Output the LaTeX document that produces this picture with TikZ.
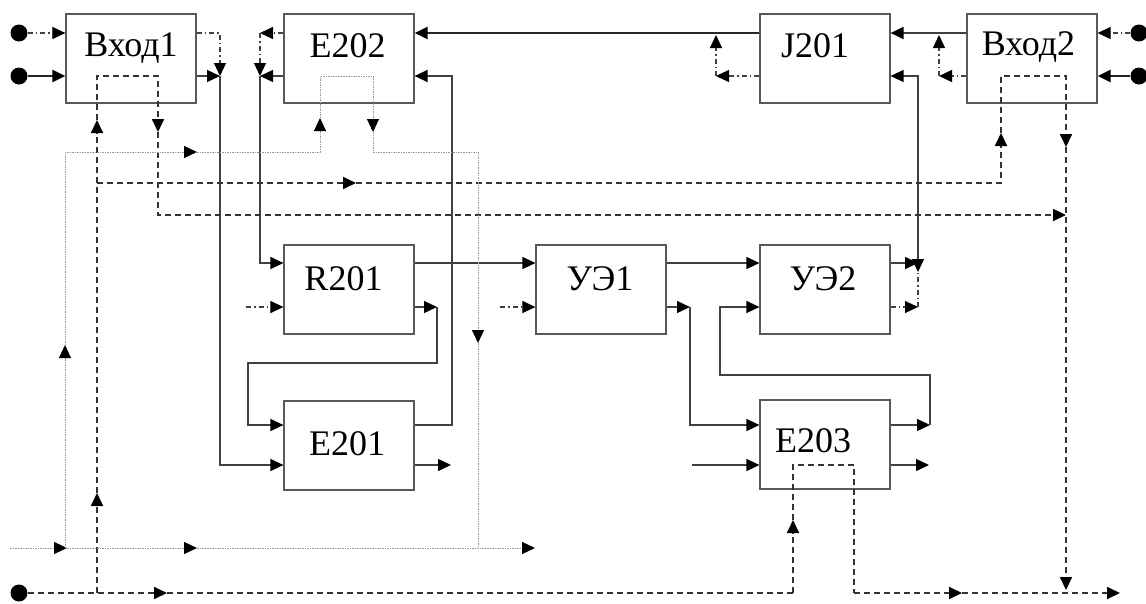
\documentclass[tikz,border=0pt]{standalone}
\usepackage{fontspec}
\setmainfont{Liberation Serif}
\usetikzlibrary{arrows.meta}
\begin{document}
\begin{tikzpicture}[x=1pt,y=-1pt,
  tip/.style={-{Triangle[length=13pt,width=12pt,color=black]}},
  tips/.style={{Triangle[length=13pt,width=12pt,color=black]}-{Triangle[length=13pt,width=12pt,color=black]}},
  box/.style={draw=black!65,line width=1.2pt,minimum width=130pt,minimum height=89pt,inner sep=0pt},
  lbl/.style={font=\fontsize{36}{36}\selectfont,anchor=base,inner sep=0pt},
  sol/.style={draw=black!75,line width=1.3pt},
  thk/.style={draw=black!85,line width=2.6pt},
  dsh/.style={draw=black!80,line width=1.8pt,dash pattern=on 6pt off 4pt},
  dtt/.style={draw=black!40,line width=0.9pt,dash pattern=on 1.5pt off 1pt},
  ddt/.style={draw=black!75,line width=1.1pt,dash pattern=on 5pt off 3pt on 1.5pt off 3pt},
  dotn/.style={circle,fill=black,minimum size=17pt,inner sep=0pt}
]
\useasboundingbox (0,0) rectangle (1146,603);

% boxes
\node[box] (v1) at (131,58.5) {};
\node[box] (e2) at (349,58.5) {};
\node[box] (jj) at (825,58.5) {};
\node[box] (v2) at (1032,58.5) {};
\node[box] (r) at (349,289.5) {};
\node[box] (u1) at (601,289.5) {};
\node[box] (u2) at (825,289.5) {};
\node[box] (e1) at (349,445.5) {};
\node[box] (e3) at (825,444.5) {};

\node[lbl] (tv1) at (131,56) {Вход1};
\node[lbl] (te2) at (347.5,57) {E202};
\node[lbl] (tjj) at (815,57) {J201};
\node[lbl] (tv2) at (1028.5,55) {Вход2};
\node[lbl] (tr) at (343.5,290) {R201};
\node[lbl] (tu1) at (600,290) {УЭ1};
\node[lbl] (tu2) at (823,290) {УЭ2};
\node[lbl] (te1) at (347,455) {E201};
\node[lbl] (te3) at (813,452) {E203};

% input dots
\node[dotn] (d1) at (19,33) {};
\node[dotn] (d2) at (19,76) {};
\node[dotn] (d3) at (1139,33) {};
\node[dotn] (d4) at (1139,76) {};
\node[dotn] (d5) at (19,593) {};

% junction / free-end coordinates
\coordinate (j1) at (220,76);
\coordinate (j1a) at (220,33);
\coordinate (j2) at (260,76);
\coordinate (j2a) at (260,33);
\coordinate (j3) at (716,76);
\coordinate (j3a) at (716,35);
\coordinate (j5) at (939,76);
\coordinate (j5a) at (939,35);
\coordinate (j4) at (918,263);
\coordinate (j4b) at (918,307);
\coordinate (j4a) at (918,272);
\coordinate (rs) at (246,307);
\coordinate (ro) at (437,307);
\coordinate (eo1) at (451,465);
\coordinate (us) at (500,307);
\coordinate (uo) at (690,307);
\coordinate (es) at (692,465);
\coordinate (eo3) at (930,425);
\coordinate (eo4) at (929,465);

% Вход1
\draw[ddt,tip] (d1) -- (v1.west |- 0,33);
\draw[thk,tip] (d2) -- (v1.west |- 0,76);
\draw[ddt,tip] (v1.east |- 0,33) -- (j1a) -- (j1);
\draw[sol,tip] (v1.east |- 0,76) -- (j1);
\draw[sol,tip] (j1) -- (220,465) -- (e1.west |- 0,465);

% E202 left
\draw[ddt,tip] (e2.west |- 0,33) -- (j2a);
\draw[ddt,tip] (j2a) -- (j2);
\draw[sol,tip] (e2.west |- 0,76) -- (j2);
\draw[sol,tip] (j2) -- (260,263) -- (r.west |- 0,263);

% J201
\draw[thk,tip] (jj.west |- 0,33) -- (e2.east |- 0,33);
\draw[ddt,tip] (jj.west |- 0,76) -- (j3);
\draw[ddt,tip] (j3) -- (j3a);

% Вход2
\draw[sol,line width=2pt,tip] (v2.west |- 0,33) -- (jj.east |- 0,33);
\draw[ddt,tip] (v2.west |- 0,76) -- (j5);
\draw[ddt,tip] (j5) -- (j5a);
\draw[ddt,tip] (d3) -- (v2.east |- 0,33);
\draw[thk,tip] (d4) -- (v2.east |- 0,76);

% УЭ2 outputs to J201
\draw[sol,tip] (u2.east |- 0,263) -- (j4);
\draw[ddt,tip] (u2.east |- 0,307) -- (j4b);
\draw[ddt] (j4b) -- (j4a);
\draw[sol,tips] (j4a) -- (918,76) -- (jj.east |- 0,76);

% R201
\draw[sol,tip] (r.east |- 0,263) -- (u1.west |- 0,263);
\draw[ddt,tip] (rs) -- (r.west |- 0,307);
\draw[sol,tip] (r.east |- 0,307) -- (ro);
\draw[sol,tip] (ro) -- (437,363) -- (248,363) -- (248,425) -- (e1.west |- 0,425);

% E201
\draw[sol,tip] (e1.east |- 0,425) -- (452,425) -- (452,76) -- (e2.east |- 0,76);
\draw[sol,tip] (e1.east |- 0,465) -- (eo1);

% УЭ1
\draw[ddt,tip] (us) -- (u1.west |- 0,307);
\draw[sol,tip] (u1.east |- 0,263) -- (u2.west |- 0,263);
\draw[sol,tip] (u1.east |- 0,307) -- (uo);
\draw[sol,tip] (uo) -- (690,425) -- (e3.west |- 0,425);
\draw[sol,tip] (es) -- (e3.west |- 0,465);

% E203
\draw[sol,tip] (e3.east |- 0,425) -- (eo3);
\draw[sol,tip] (eo3) -- (930,375) -- (720,375) -- (720,307) -- (u2.west |- 0,307);
\draw[sol,tip] (e3.east |- 0,465) -- (eo4);

% dashed lines
\coordinate (k1) at (167,593);
\coordinate (k2) at (793,593);
\coordinate (k3) at (793,520);
\coordinate (k4) at (962,593);
\coordinate (k5) at (1120,593);
\coordinate (k6) at (97,593);
\coordinate (k7) at (97,493);
\coordinate (k8) at (97,120);
\coordinate (k9) at (158,132);
\coordinate (k10) at (1066,215);
\coordinate (k11) at (97,183);
\coordinate (k12) at (356,183);
\coordinate (k13) at (1001,133);
\coordinate (k14) at (1066,147);
\coordinate (k15) at (1066,590);

\draw[dsh,tip] (d5) -- (k1);
\draw[dsh] (k1) -- (k2);
\draw[dsh,tip] (k2) -- (k3);
\draw[dsh] (k3) -- (793,465) -- (854,465) -- (854,593);
\draw[dsh,tip] (854,593) -- (k4);
\draw[dsh,tip] (k4) -- (k5);
\draw[dsh,tip] (k6) -- (k7);
\draw[dsh,tip] (k7) -- (k8);
\draw[dsh,tip] (k8) -- (97,76) -- (158,76) -- (k9);
\draw[dsh,tip] (k9) -- (158,215) -- (k10);
\draw[dsh,tip] (k11) -- (k12);
\draw[dsh,tip] (k12) -- (1001,183) -- (k13);
\draw[dsh,tip] (k13) -- (1001,76) -- (1066,76) -- (k14);
\draw[dsh,tip] (k14) -- (k15);

% dotted gray lines
\coordinate (m0) at (10,548);
\coordinate (m1) at (67,548);
\coordinate (m2) at (197,548);
\coordinate (m3) at (535,548);
\coordinate (m4) at (65,548);
\coordinate (m5) at (65,345);
\coordinate (m6) at (197,152);
\coordinate (m7) at (320,118);
\coordinate (m8) at (373,132);
\coordinate (m9) at (478,343);
\coordinate (m10) at (478,548);

\draw[dtt,tip] (m0) -- (m1);
\draw[dtt,tip] (m1) -- (m2);
\draw[dtt,tip] (m2) -- (m3);
\draw[dtt,tip] (m4) -- (m5);
\draw[dtt,tip] (m5) -- (65,152) -- (m6);
\draw[dtt,tip] (m6) -- (320,152) -- (m7);
\draw[dtt,tip] (m7) -- (320,76) -- (373,76) -- (m8);
\draw[dtt,tip] (m8) -- (373,152) -- (478,152) -- (m9);
\draw[dtt] (m9) -- (m10);
\end{tikzpicture}
\end{document}
